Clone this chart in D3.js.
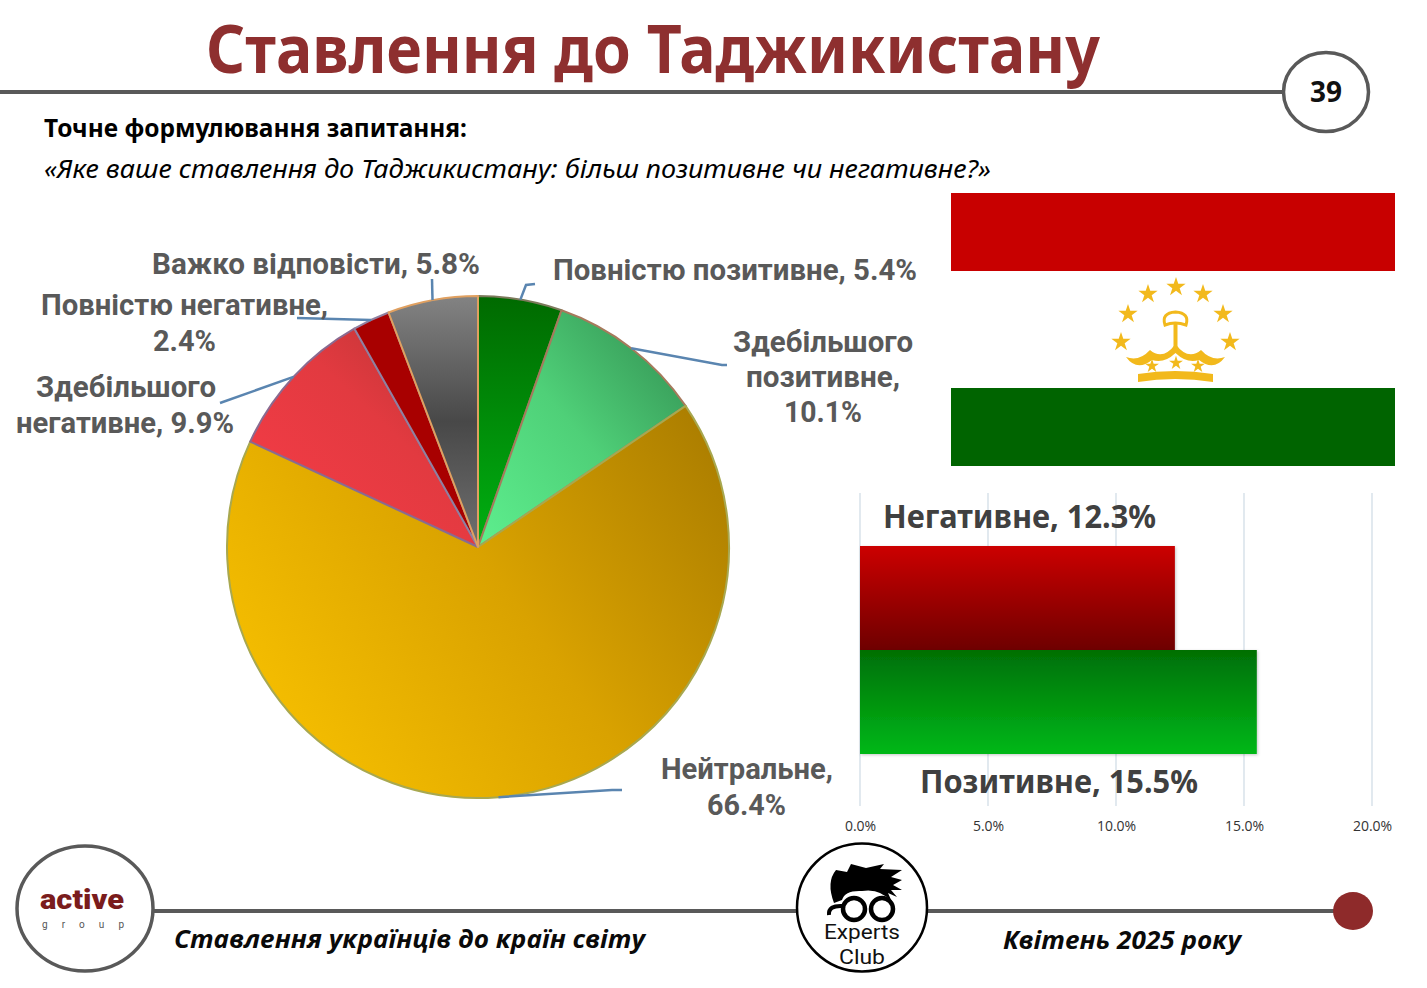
<!DOCTYPE html>
<html><head><meta charset="utf-8"><title>Ставлення до Таджикистану</title>
<script src="https://cdnjs.cloudflare.com/ajax/libs/d3/7.8.5/d3.min.js"></script>
<style>html,body{margin:0;padding:0;background:#fff;overflow:hidden}svg{display:block}</style>
</head><body><svg id="c" width="1427" height="988" viewBox="0 0 1427 988"></svg>
<script>
const sliceNames = ["Повністю позитивне","Здебільшого позитивне","Нейтральне","Здебільшого негативне","Повністю негативне","Важко відповісти"];
const sliceValues = [5.4,10.1,66.4,9.9,2.4,5.8];
const barNames = ["Негативне","Позитивне"];
const barValues = [12.3,15.5];
const barTicks = [0,5,10,15,20];

const svg = d3.select("#c");
const defs = svg.append("defs");
const grey="#595959";

function lin(id,x1,y1,x2,y2,stops){
  const g=defs.append("linearGradient").attr("id",id).attr("gradientUnits","userSpaceOnUse")
    .attr("x1",x1).attr("y1",y1).attr("x2",x2).attr("y2",y2);
  stops.forEach(([o,c])=>g.append("stop").attr("offset",o).attr("stop-color",c));
}
function txt(s,x0,x1,base,size,weight,fill,family,style,g){
  return (g||svg).append("text").attr("x",x0).attr("y",base).attr("textLength",x1-x0).attr("lengthAdjust","spacingAndGlyphs")
    .attr("font-family",family).attr("font-size",size).attr("font-weight",weight).attr("font-style",style||"normal").attr("fill",fill).text(s);
}
const OS="'Open Sans',sans-serif", RB="Roboto,sans-serif", NS="'Noto Sans',sans-serif";

/* header */
txt("Ставлення до Таджикистану",206,1100,73,67,700,"#8e2f2f",NS);
svg.append("line").attr("x1",0).attr("x2",1285).attr("y1",92).attr("y2",92).attr("stroke",grey).attr("stroke-width",4);
svg.append("ellipse").attr("cx",1326).attr("cy",92).attr("rx",42.5).attr("ry",39.5).attr("fill","#fff").attr("stroke",grey).attr("stroke-width",3.5);
svg.append("text").attr("x",1326).attr("y",102).attr("text-anchor","middle").attr("font-family",NS).attr("font-weight",700).attr("font-size",28).attr("fill","#111").text("39");
txt("Точне формулювання запитання:",44,467,137,25,700,"#000",NS);
txt("«Яке ваше ставлення до Таджикистану: більш позитивне чи негативне?»",44,991,178,25,400,"#000",NS,"italic");

/* pie: gradients are given in page coordinates */
const cx=478, cy=547, R=251;
lin("s0",0,296,0,547,[[0,"#006a00"],[1,"#00b012"]]);
lin("s1",490,540,680,380,[[0,"#5cec8c"],[.55,"#4fd078"],[1,"#3aa05c"]]);
lin("s2",270,740,730,420,[[0,"#f6bf00"],[.5,"#d9a200"],[1,"#a87b00"]]);
lin("s3",320,500,470,340,[[0,"#ee3b44"],[.45,"#e23a40"],[1,"#b83434"]]);
lin("s4",0,300,0,547,[[0,"#a80000"],[1,"#a80000"]]);
lin("s5",0,296,0,547,[[0,"#838383"],[.5,"#484848"],[1,"#707070"]]);
const strokes=["#7d7a5c","#a67a5c","#a8a850","#8a6a90","#9080a0","#e0a060"];
const pie=d3.pie().sort(null).value(d=>d)(sliceValues);
const arc=d3.arc().innerRadius(0).outerRadius(R);
defs.selectAll("linearGradient").filter(function(){return /^s/.test(this.id);})
  .attr("gradientTransform",`translate(${-cx},${-cy})`);
svg.append("g").attr("transform",`translate(${cx},${cy})`)
  .selectAll("path").data(pie).join("path").attr("d",arc)
  .attr("fill",(d,i)=>`url(#s${i})`)
  .attr("stroke",(d,i)=>strokes[i]).attr("stroke-width",2).attr("stroke-linejoin","round");

/* leader lines: leave each slice at its mid angle */
const leaderBends=[[[526,285],[535,284]],[[722,365],[727,365]],[[612,790],[622,790]],[[220,403]],[[297,318]],[[432,279]]];
const line=d3.line();
svg.append("g").selectAll("path").data(pie).join("path").attr("fill","none").attr("stroke","#5a85b0").attr("stroke-width",2.5)
  .attr("d",(d,i)=>{
    const a=(d.startAngle+d.endAngle)/2;
    return line([[cx+R*Math.sin(a),cy-R*Math.cos(a)],...leaderBends[i]]);
  });

/* pie labels */
[["Важко відповісти, "+sliceValues[5]+"%",152,480,274],
 ["Повністю позитивне, "+sliceValues[0]+"%",553,917,280],
 ["Здебільшого",733,913,352],["позитивне,",746,900,387],[sliceValues[1]+"%",784,862,422],
 ["Повністю негативне,",41,328,315],[sliceValues[4]+"%",153,216,351],
 ["Здебільшого",36,216,397],["негативне, "+sliceValues[3]+"%",16,234,433],
 ["Нейтральне,",661,833,779],[sliceValues[2]+"%",707,786,815]
].forEach(([s,a,b,y])=>txt(s,a,b,y,29,700,grey,RB));

/* flag */
const fl=svg.append("g");
fl.append("rect").attr("x",951).attr("y",193).attr("width",444).attr("height",78).attr("fill","#c80000");
fl.append("rect").attr("x",951).attr("y",388).attr("width",444).attr("height",78).attr("fill","#006400");
const gold="#f2b91c";
const star=d3.symbol().type(d3.symbolStar).size(115);
[[1176,287],[1148,294],[1203,294],[1128,314],[1223,314],[1121,342],[1230,342]].forEach(([x,y])=>
  fl.append("path").attr("d",star()).attr("transform",`translate(${x},${y})`).attr("fill",gold));
const small=d3.symbol().type(d3.symbolStar).size(60);
[[1152,366],[1176,363],[1198,366]].forEach(([x,y])=>
  fl.append("path").attr("d",small()).attr("transform",`translate(${x},${y})`).attr("fill",gold));
fl.append("path").attr("fill",gold).attr("d","M1126,357 Q1139,362 1150,350 Q1163,361 1175.5,344 Q1188,361 1201,350 Q1212,362 1225,357 Q1214,372 1199,360 Q1187,364 1175.5,353 Q1164,364 1152,360 Q1137,372 1126,357Z");
fl.append("path").attr("fill",gold).attr("d","M1138,374 Q1175,368 1213,374 L1213,382 Q1175,376 1138,382Z");
fl.append("rect").attr("x",1173.5).attr("y",322).attr("width",4).attr("height",26).attr("fill",gold);
fl.append("path").attr("fill","#fff").attr("stroke",gold).attr("stroke-width",3).attr("d","M1165,325 Q1161,313 1175.5,312 Q1190,313 1186,325 Q1175,321 1165,325Z");

/* bar chart */
const x=d3.scaleLinear().domain([0,20]).range([860,1372]);
const y=d3.scaleBand().domain(barNames).range([546,754]).padding(0);
svg.append("g").selectAll("line").data(barTicks).join("line")
  .attr("x1",d=>x(d)).attr("x2",d=>x(d)).attr("y1",493).attr("y2",806).attr("stroke","#d2dde7").attr("stroke-width",1.3);
lin("b0",0,546,0,650,[[0,"#cc0000"],[1,"#6e0000"]]);
lin("b1",0,650,0,754,[[0,"#056f05"],[1,"#04b818"]]);
const sh=defs.append("filter").attr("id","sh").attr("x","-5%").attr("y","-5%").attr("width","110%").attr("height","110%");
sh.append("feDropShadow").attr("dx",1).attr("dy",1).attr("stdDeviation",1.5).attr("flood-color","#000").attr("flood-opacity",.22);
svg.append("g").selectAll("rect").data(barValues).join("rect")
  .attr("x",x(0)).attr("y",(d,i)=>y(barNames[i])).attr("width",d=>x(d)-x(0)).attr("height",y.bandwidth())
  .attr("fill",(d,i)=>`url(#b${i})`).attr("filter","url(#sh)");
txt(barNames[0]+", "+barValues[0]+"%",883,1156,528,33,700,"#404040",NS);
txt(barNames[1]+", "+barValues[1]+"%",920,1198,793,33,700,"#404040",NS);
const ax=svg.append("g").attr("transform","translate(0,806)")
  .call(d3.axisBottom(x).tickValues(barTicks).tickSize(0).tickPadding(15).tickFormat(d=>d.toFixed(1)+"%"));
ax.select(".domain").remove();
ax.selectAll("text").attr("font-family",OS).attr("font-size",14).attr("fill","#333");

/* footer */
svg.append("line").attr("x1",150).attr("x2",1345).attr("y1",911).attr("y2",911).attr("stroke",grey).attr("stroke-width",4);
svg.append("ellipse").attr("cx",85).attr("cy",908.5).attr("rx",68).attr("ry",62.5).attr("fill","#fff").attr("stroke",grey).attr("stroke-width",3.5);
txt("active",40,124,909,28,900,"#7a1c1c",RB);
txt("group",42,124,928,10,400,"#555",RB).attr("lengthAdjust","spacing");
txt("Ставлення українців до країн світу",174,645,948,25,700,"#0a0a0a",OS,"italic");
txt("Квітень 2025 року",1003,1241,949,25,700,"#0a0a0a",OS,"italic");
svg.append("ellipse").attr("cx",1353).attr("cy",911).attr("rx",20).attr("ry",19).attr("fill","#8e2a2a");
svg.append("ellipse").attr("cx",862).attr("cy",907.5).attr("rx",65).attr("ry",64).attr("fill","#fff").attr("stroke","#000").attr("stroke-width",2.5);
const ec=svg.append("g");
ec.append("path").attr("fill","#000").attr("d","M834,903 Q826,882 836,870 L847,872 L851,864 L866,868 L884,864 L880,869 L902,870 L891,877 L902,880 L893,885 L902,890 L891,890 L897,897 L888,893 L892,902 Q880,888 862,891 Q845,890 842,900Z");
[854,882].forEach(c=>ec.append("circle").attr("cx",c).attr("cy",909).attr("r",11).attr("fill","#fff").attr("stroke","#000").attr("stroke-width",4.5));
ec.append("path").attr("fill","none").attr("stroke","#000").attr("stroke-width",4).attr("d","M829,915 Q828,905 843,906");
txt("Experts",824,900,939,21,400,"#111",RB,"normal",ec);
txt("Club",839,885,964,21,400,"#111",RB,"normal",ec);
</script></body></html>
